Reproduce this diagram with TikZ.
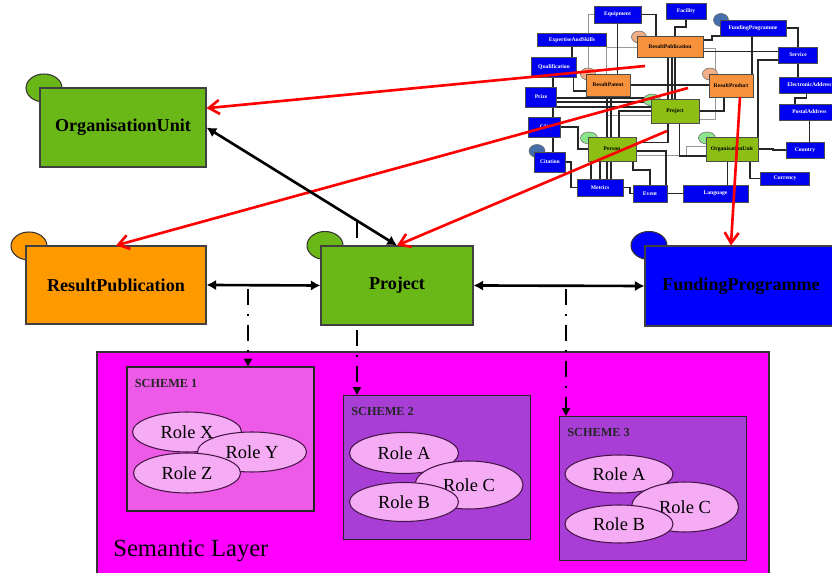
\documentclass[tikz,border=0pt]{standalone}
\usepackage{fontspec}
\setmainfont{Liberation Serif}
\usepackage{tikz}
\usetikzlibrary{positioning}
\usetikzlibrary{arrows.meta}
\usetikzlibrary{shapes.geometric}
\usetikzlibrary{backgrounds}
\usepackage{xcolor}

\definecolor{boxgreen}{RGB}{106,184,24}
\definecolor{boxorange}{RGB}{255,153,0}
\definecolor{boxblue}{RGB}{0,0,255}
\definecolor{semmagenta}{RGB}{255,0,255}
\definecolor{schemepink}{RGB}{238,90,232}
\definecolor{schemepurple}{RGB}{168,62,214}
\definecolor{rolepink}{RGB}{245,172,245}
\definecolor{roleedge}{RGB}{70,20,70}
\definecolor{insetblue}{RGB}{0,0,240}
\definecolor{insetorange}{RGB}{247,145,60}
\definecolor{insetgreen}{RGB}{140,190,20}
\definecolor{tabsalmon}{RGB}{240,175,135}
\definecolor{tabgreen}{RGB}{140,230,140}
\definecolor{tabblue}{RGB}{70,110,170}

\begin{document}
\begin{tikzpicture}[x=0.02cm, y=-0.02cm,
  sz/.style 2 args={minimum width=#1*0.02cm, minimum height=#2*0.02cm},
  mainbox/.style={draw=black!75, line width=0.6pt, inner sep=0pt, font=\bfseries\fontsize{10.3}{12}\selectfont},
  maintab/.style={ellipse, draw=black!80, line width=0.6pt, inner sep=0pt, sz={36}{28}},
  scheme/.style={draw=black!85, line width=0.6pt, sz={187}{144}},
  schlabel/.style={inner sep=0pt, font=\bfseries\fontsize{7}{8}\selectfont, text=black!85},
  role/.style={ellipse, draw=roleedge, line width=0.6pt, fill=rolepink, inner sep=0pt, font=\fontsize{10.5}{12}\selectfont},
  insetbox/.style={draw=black!70, line width=0.3pt, inner sep=0pt, font=\bfseries\fontsize{3.2}{3.2}\selectfont},
  insetblue/.style={insetbox, fill=insetblue, text=white},
  insetorange/.style={insetbox, fill=insetorange},
  insetgreen/.style={insetbox, fill=insetgreen},
  insettab/.style={ellipse, draw=black!60, line width=0.3pt, inner sep=0pt, sz={15}{12}},
  wire/.style={draw=black!85, line width=0.9pt},
  thinwire/.style={draw=black!40, line width=0.5pt},
  relation/.style={black, line width=1.5pt, {Latex[length=5.5pt,width=6pt]}-{Latex[length=5.5pt,width=6pt]}},
  mapping/.style={red, line width=1.5pt, -{Straight Barb[length=6pt,width=8pt]}},
  semantic/.style={black, line width=1.6pt, dash pattern=on 9pt off 5pt on 1.5pt off 5pt, -{Triangle[length=4.5pt,width=4.5pt]}}
]

\useasboundingbox (0,0) rectangle (832,573);

% Semantic layer with the three schemes
\node[draw=black!80, line width=0.6pt, fill=semmagenta, sz={672}{230}] (SL) at (433,467) {};
\node[anchor=west, inner sep=0pt, font=\fontsize{14}{16}\selectfont] (SLlabel) at (113,551) {Semantic Layer};

\node[scheme, fill=schemepink] (S1) at (220.5,439) {};
\node[schlabel, below right=0.25cm and 0.16cm of S1.north west] (S1label) {SCHEME 1};
\node[role, sz={109}{40}] (RX) at (187,432) {Role X};
\node[role, sz={109}{40}] (RY) at (252,452) {Role Y};
\node[role, sz={107}{40}] (RZ) at (187,473) {Role Z};

\node[scheme, fill=schemepurple] (S2) at (437,467.5) {};
\node[schlabel, below right=0.25cm and 0.16cm of S2.north west] (S2label) {SCHEME 2};
\node[role, sz={109}{41}] (RA2) at (404,453) {Role A};
\node[role, sz={108}{48}] (RC2) at (469,485) {Role C};
\node[role, sz={109}{39}] (RB2) at (404,502) {Role B};

\node[scheme, fill=schemepurple] (S3) at (653,488.5) {};
\node[schlabel, below right=0.25cm and 0.16cm of S3.north west] (S3label) {SCHEME 3};
\node[role, sz={108}{38}] (RA3) at (619,474) {Role A};
\node[role, sz={107}{50}] (RC3) at (685,507) {Role C};
\node[role, sz={108}{38}] (RB3) at (619,524) {Role B};

% Dash-dot links down to the schemes
\coordinate (d1) at (248,289);
\coordinate (d2) at (357,222);
\coordinate (d3) at (566,289);
\draw[semantic] (d1) -- (d1 |- S1.north);
\draw[semantic] (d2) -- (d2 |- S2.north);
\draw[semantic] (d3) -- (d3 |- S3.north);

% Main entities
\node[maintab, fill=boxgreen] (OUtab) at (44,88) {};
\node[mainbox, fill=boxgreen, sz={166}{79}] (OU) at (123,127.5) {OrganisationUnit};
\node[maintab, fill=boxorange] (RPtab) at (29,246) {};
\node[mainbox, fill=boxorange, sz={180}{78}] (RP) at (116,285) {ResultPublication};
\node[maintab, fill=boxgreen] (PJtab) at (325,245.5) {};
\node[mainbox, fill=boxgreen, sz={152}{79}] (PJ) at (397,285.5) {Project};
\node[maintab, fill=boxblue] (FPtab) at (649,245.5) {};
\node[mainbox, fill=boxblue, sz={192}{80}] (FP) at (741,286) {FundingProgramme};

% Inset: the full model
\node[insettab, fill=tabsalmon] (rpubtab) at (639,37) {};
\node[insettab, fill=tabblue, sz={15}{13}] (fptab) at (721,20) {};
\node[insettab, fill=tabsalmon] (rpattab) at (588,74) {};
\node[insettab, fill=tabsalmon] (rprodtab) at (710,74) {};
\node[insettab, fill=tabgreen, sz={17}{12}] (pjtab) at (652,100) {};
\node[insettab, fill=tabgreen, sz={17}{12}] (pstab) at (589,138) {};
\node[insettab, fill=tabgreen, sz={17}{12}] (outab) at (707,138) {};
\node[insettab, fill=tabblue, sz={16}{13}] (cttab) at (537,151) {};

\node[insetblue, sz={47}{17}] (e) at (617.5,14.5) {Equipment};
\node[insetblue, sz={40}{16}] (f) at (686,11) {Facility};
\node[insetblue, sz={66}{16}] (fp) at (753,28) {FundingProgramme};
\node[insetblue, sz={69}{13}] (es) at (572,40) {ExpertiseAndSkills};
\node[insetorange, sz={66}{21}] (rpub) at (670,47) {ResultPublication};
\node[insetblue, sz={39}{16}] (sv) at (798,55) {Service};
\node[insetblue, sz={45}{20}] (q) at (554,67) {Qualification};
\node[insetorange, sz={44}{22}] (rpat) at (608,85) {ResultPatent};
\node[insetorange, sz={44}{23}] (rprod) at (731,85.5) {ResultProduct};
\node[insetblue, sz={61}{16}] (ea) at (809.5,85) {ElectronicAddress};
\node[insetblue, sz={31}{20}] (pz) at (541,97) {Prize};
\node[insetgreen, sz={48}{24}] (pj) at (675,111) {Project};
\node[insetblue, sz={61}{16}] (pa) at (809.5,112) {PostalAddress};
\node[insetblue, sz={32}{20}] (cv) at (544,127) {CV};
\node[insetgreen, sz={48}{24}] (ps) at (612,149) {Person};
\node[insetgreen, sz={52}{24}] (ou) at (732,149) {OrganisationUnit};
\node[insetblue, sz={38}{16}] (cy) at (805,150) {Country};
\node[insetblue, sz={31}{20}] (ct) at (550,162) {Citation};
\node[insetblue, sz={49}{13}] (cu) at (785,178.5) {Currency};
\node[insetblue, sz={46}{17}] (mt) at (600,187.5) {Metrics};
\node[insetblue, sz={34}{17}] (ev) at (650,193.5) {Event};
\node[insetblue, sz={65}{17}] (lg) at (715.5,193.5) {Language};

\begin{scope}[on background layer]
\fill[white] (0,0) rectangle (832,573);
% inset relations, behind the boxes
\draw[thinwire] (rpub.west) -- ++(-30,0) |- (pj.-170);
\draw[thinwire] (rpub.-3) -- ++(12,0) |- (pj.-20);
\draw[thinwire] (ps.-15) -- ++(50,0) |- (ou.175);
\draw[thinwire] (e.west) -| (rpat.150);
\draw[wire] (e.east) -| (rpub.143);
\draw[wire] (f.south) -- ++(0,8) -| (rpub.65);
\draw[wire] (es.south) -- (es.south |- q.north);
\draw[wire] (rpub.12) -- ++(9,0) |- (fp.195);
\draw[wire] (fp.east) -| (sv.north);
\draw[wire] (sv.south) -- (sv.south |- ea.north);
\draw[wire] (ea.250) -- ++(0,5) -| (pa.150);
\draw[wire] (pa.south) -- (pa.south |- cy.north);
\draw[wire] (q.332) |- (rpat.195);
\draw[wire] (pz.40) -- (pz.40 |- q.south);
\draw[wire] (pz.-40) -- (pz.-40 |- cv.north);
\draw[wire] (cv.-48) -- (cv.-48 |- ct.north);
\draw[wire] (pz.-3) -- (pz.-3 -| pj.west);
\draw[wire] (pz.-18) -- (pz.-18 -| pj.west);
\draw[wire] (pz.-32) -- (pz.-32 -| pj.west);
\draw[wire] (cv.east) -- ++(18,0) |- (ps.west);
\draw[wire] (ct.east) -- ++(5,0) |- (mt.west);
\draw[wire] (mt.east) -- ++(7,0) |- (ev.west);
\draw[wire] (rpat.-95) -- (rpat.-95 |- mt.north);
\draw[wire] (rpat.-75) -- (rpat.-75 |- mt.north);
\draw[wire] (ps.-135) -- (ps.-135 |- mt.north);
\draw[wire] (ps.-150) -- (ps.-150 |- mt.north);
\draw[wire] (ps.-30) -- ++(0,9) -| (ev.north);
\draw[wire] (pj.-70) |- (ou.195);
\draw[wire] (pj.east) -| (rprod.-120);
\draw[wire] (ou.east) -- ++(15,0) |- (cy.west);
\draw[wire] (ou.-34) |- (cu.west);
\draw[wire] (ou.-110) -- (ou.-110 |- lg.north);
\draw[wire] (ps.-5) -- ++(30,0) |- (lg.west);
\draw[wire] (rpat.east) -- (rpat.east -| rprod.west);
\draw[wire] (rpub.-100) |- (ps.15);
\draw[wire] (rpub.-80) -- (rpub.-80 |- pj.north);
\draw[wire] (e.south) -- (e.south |- rpat.north);
\draw[wire] (rpub.-8) -- (rpub.-8 -| sv.west);
\draw[wire] (sv.195) -| (ou.north east);
\draw[wire] (fp.-95) -- (fp.-95 |- rprod.north);
\draw[wire] (pj.west) -| (ps.60);
\draw[wire] (pj.north) -- (pj.north |- rpub.south);
\end{scope}

% Mappings from the inset to the main entities
\coordinate (m1) at (645,66);
\coordinate (m2) at (688,88);
\coordinate (m3) at (667,131);
\coordinate (m4) at (740,97);
\draw[mapping] (m1) -- (OU.13);
\draw[mapping] (m2) -- (RP.north);
\draw[mapping] (m3) -- (PJ.north);
\draw[mapping] (m4) -- (FP.104);

% Relations between the main entities
\draw[relation] (OU.east) -- (PJ.north);
\draw[relation] (RP.east) -- (PJ.west);
\draw[relation] (PJ.east) -- (FP.west);

\end{tikzpicture}
\end{document}
